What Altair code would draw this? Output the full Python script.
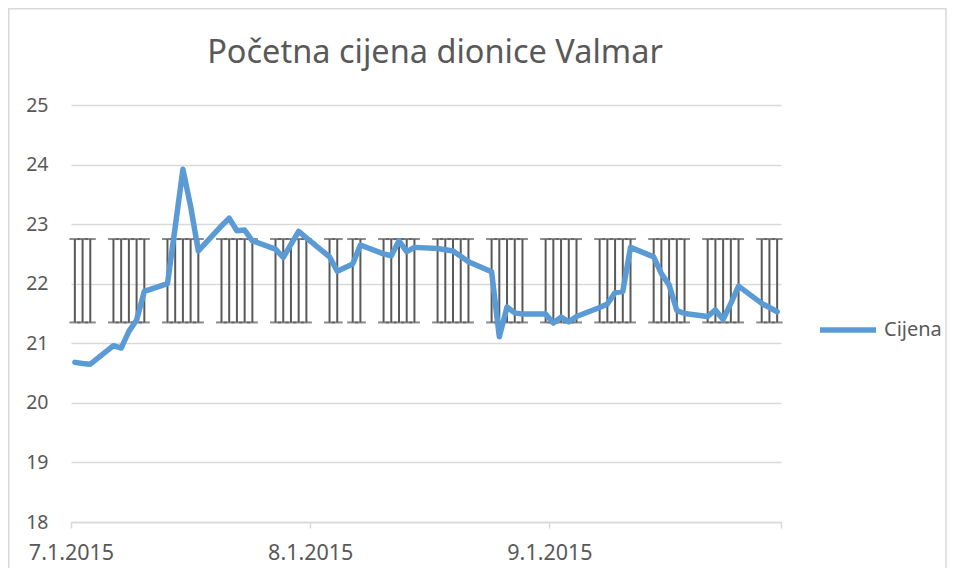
import altair as alt
import pandas as pd

title_text = "Početna cijena dionice Valmar"
series_name = "Cijena"
start_date = "2015-07-01"

dates = [
    "2015-07-01", "2015-07-02", "2015-07-03",
    "2015-07-06", "2015-07-07", "2015-07-08", "2015-07-09", "2015-07-10",
    "2015-07-13", "2015-07-14", "2015-07-15", "2015-07-16", "2015-07-17",
    "2015-07-20", "2015-07-21", "2015-07-22", "2015-07-23", "2015-07-24",
    "2015-07-27", "2015-07-28", "2015-07-29", "2015-07-30", "2015-07-31",
    "2015-08-03", "2015-08-04", "2015-08-06", "2015-08-07",
    "2015-08-10", "2015-08-11", "2015-08-12", "2015-08-13", "2015-08-14",
    "2015-08-17", "2015-08-18", "2015-08-19", "2015-08-20", "2015-08-21",
    "2015-08-24", "2015-08-25", "2015-08-26", "2015-08-27", "2015-08-28",
    "2015-08-31", "2015-09-01", "2015-09-02", "2015-09-03", "2015-09-04",
    "2015-09-07", "2015-09-08", "2015-09-09", "2015-09-10", "2015-09-11",
    "2015-09-14", "2015-09-15", "2015-09-16", "2015-09-17", "2015-09-18",
    "2015-09-21", "2015-09-22", "2015-09-23", "2015-09-24", "2015-09-25",
    "2015-09-28", "2015-09-29", "2015-09-30",
]
prices = [
    20.68, 20.66, 20.65,
    20.96, 20.92, 21.20, 21.39, 21.87,
    22.00, 22.95, 23.92, 23.30, 22.55,
    22.97, 23.10, 22.89, 22.90, 22.72,
    22.58, 22.44, 22.66, 22.88, 22.77,
    22.45, 22.21, 22.33, 22.65,
    22.50, 22.47, 22.72, 22.54, 22.61,
    22.59, 22.57, 22.55, 22.46, 22.37,
    22.20, 21.11, 21.61, 21.51, 21.49,
    21.49, 21.34, 21.44, 21.36, 21.45,
    21.60, 21.66, 21.85, 21.87, 22.61,
    22.45, 22.17, 21.98, 21.55, 21.50,
    21.45, 21.56, 21.40, 21.67, 21.96,
    21.67, 21.60, 21.53,
]
band_low = 21.35
band_high = 22.75

y_ticks = [18, 19, 20, 21, 22, 23, 24, 25]
x_tick_days = [0, 31, 62, 92]
x_tick_labels = ["7.1.2015", "8.1.2015", "9.1.2015", ""]

df = pd.DataFrame({"date": dates, "price": prices})
df["day"] = (pd.to_datetime(df["date"]) - pd.Timestamp(start_date)).dt.days + 0.5
df["series"] = series_name
df["low"] = band_low
df["high"] = band_high

label_expr = "''"
for d, lab in reversed(list(zip(x_tick_days, x_tick_labels))):
    label_expr = f"datum.value == {d} ? '{lab}' : ({label_expr})"

GRAY = "#595959"
GRID = "#d9d9d9"
FONT = "Noto Sans"

xscale = alt.Scale(domain=[0, 92], nice=False, zero=False)
yscale = alt.Scale(domain=[18, 25], nice=False, zero=False)
xaxis = alt.Axis(
    values=x_tick_days, labelExpr=label_expr, title=None, grid=False,
    domainColor=GRID, domainWidth=1.5, tickColor=GRID, tickWidth=1.5, tickSize=6,
    labelFontSize=21.5, labelColor=GRAY, labelFont=FONT, labelPadding=14,
    labelBaseline="top", labelFlush=False, labelOverlap=False,
)
yaxis = alt.Axis(
    values=y_ticks, title=None, grid=True, gridColor=GRID, gridWidth=1.5,
    domain=False, ticks=False, tickSize=0, labelFontSize=19.5, labelColor=GRAY,
    labelFont=FONT, labelPadding=23,
)

W, H = 710, 417
PL, PT, PR, PB = 63, 97, 166, 46

frame = alt.Chart(pd.DataFrame({"k": [0]})).mark_rect(
    fillOpacity=0, stroke=GRID, strokeWidth=1.5
).encode(
    x=alt.value(-PL + 0.75), x2=alt.value(W + PR - 1),
    y=alt.value(-PT + 0.75), y2=alt.value(H + 80),
)

title = alt.Chart(pd.DataFrame({"t": [title_text]})).mark_text(
    fontSize=32.5, font=FONT, color=GRAY, align="center", baseline="alphabetic"
).encode(text="t:N", x=alt.value(364), y=alt.value(-42))

base = alt.Chart(df)
rules = base.mark_rule(color=GRAY, strokeWidth=2).encode(
    x=alt.X("day:Q", scale=xscale, axis=xaxis),
    y=alt.Y("low:Q", scale=yscale, axis=yaxis),
    y2="high:Q",
)
cap_low = base.mark_tick(color=GRAY, orient="horizontal", size=11, thickness=2).encode(
    x=alt.X("day:Q", scale=xscale, axis=xaxis),
    y=alt.Y("low:Q", scale=yscale, axis=yaxis),
)
cap_high = base.mark_tick(color=GRAY, orient="horizontal", size=11, thickness=2).encode(
    x=alt.X("day:Q", scale=xscale, axis=xaxis),
    y=alt.Y("high:Q", scale=yscale, axis=yaxis),
)
line = base.mark_line(strokeWidth=5.5, strokeCap="round", strokeJoin="round").encode(
    x=alt.X("day:Q", scale=xscale, axis=xaxis),
    y=alt.Y("price:Q", scale=yscale, axis=yaxis),
    color=alt.Color(
        "series:N",
        scale=alt.Scale(domain=[series_name], range=["#5b9bd5"]),
        legend=alt.Legend(
            title=None, orient="none", legendX=746, legendY=194,
            symbolType="stroke", symbolSize=3136, symbolStrokeWidth=5.5,
            labelFontSize=20, labelColor=GRAY, labelFont=FONT,
            labelOffset=5, padding=0,
        ),
    ),
)

chart = alt.layer(frame, title, rules, cap_low, cap_high, line).properties(
    width=W, height=H,
    autosize=alt.AutoSizeParams(type="none"),
    padding={"left": PL, "top": PT, "right": PR, "bottom": PB},
).configure_view(stroke=None)

chart.save("out.html", embed_options={"renderer": "svg", "actions": False})
